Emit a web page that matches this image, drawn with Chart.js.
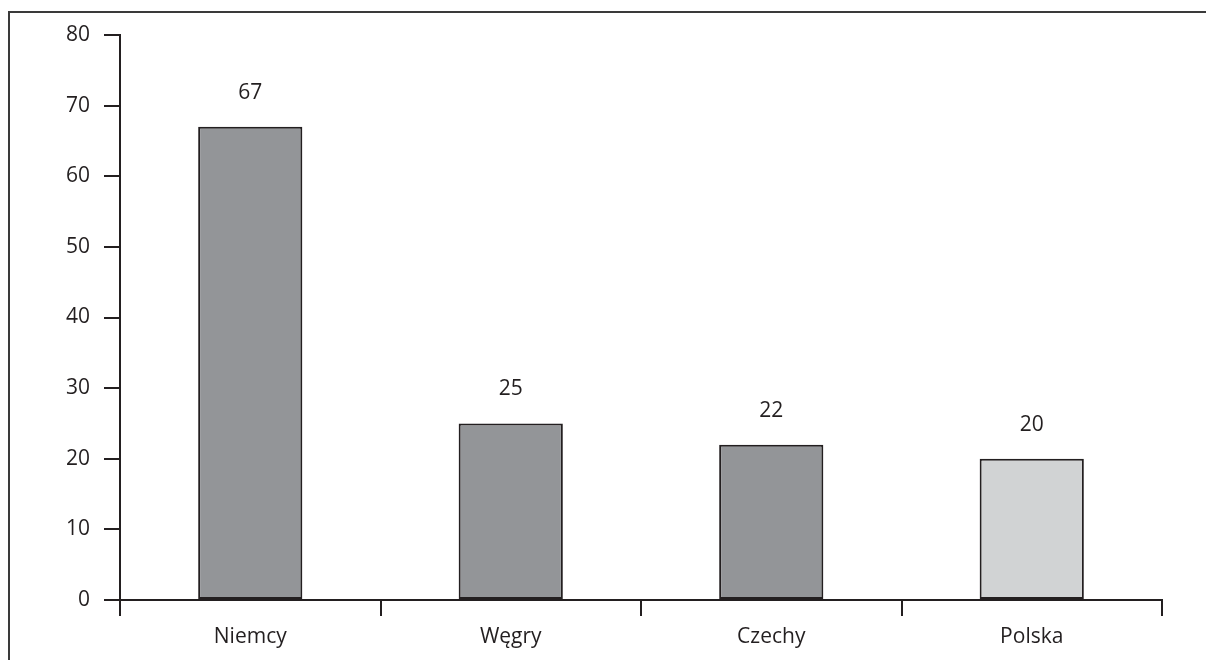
<!DOCTYPE html>
<html>
<head>
<meta charset="utf-8">
<script src="https://cdn.jsdelivr.net/npm/chart.js@4/dist/chart.umd.min.js"></script>
<style>
  html, body { margin: 0; padding: 0; background: #ffffff; }
  #wrap { width: 1206px; height: 660px; position: relative; }
</style>
</head>
<body>
<div id="wrap"><canvas id="c" width="1206" height="660"></canvas></div>
<script>
const categories = ['Niemcy', 'Węgry', 'Czechy', 'Polska'];
const values = [67, 25, 22, 20];
const barColors = ['#939598', '#939598', '#939598', '#d1d3d4'];
const yTicks = [0, 10, 20, 30, 40, 50, 60, 70, 80];

const ink = '#231f20';
const fontFamily = '"Open Sans", "Noto Sans", sans-serif';
const fontSize = 21;

// Thin frame along the top and left edges of the figure
const framePlugin = {
  id: 'frame',
  beforeDraw(chart) {
    const ctx = chart.ctx;
    ctx.save();
    ctx.strokeStyle = '#3a3a3a';
    ctx.lineWidth = 2;
    ctx.beginPath();
    ctx.moveTo(9, chart.height);
    ctx.lineTo(9, 12);
    ctx.lineTo(chart.width, 12);
    ctx.stroke();
    ctx.restore();
  }
};

// Value printed above each bar
const valueLabels = {
  id: 'valueLabels',
  afterDatasetsDraw(chart) {
    const ctx = chart.ctx;
    const meta = chart.getDatasetMeta(0);
    ctx.save();
    ctx.fillStyle = ink;
    ctx.font = fontSize + 'px ' + fontFamily;
    ctx.textAlign = 'center';
    ctx.textBaseline = 'middle';
    meta.data.forEach((bar, i) => {
      ctx.fillText(String(chart.data.datasets[0].data[i]), bar.x, bar.y - 34);
    });
    ctx.restore();
  }
};

new Chart(document.getElementById('c'), {
  type: 'bar',
  data: {
    labels: categories,
    datasets: [{
      data: values,
      backgroundColor: barColors,
      borderColor: ink,
      borderWidth: 2,
      borderSkipped: false,
      categoryPercentage: 0.4,
      barPercentage: 1.0
    }]
  },
  options: {
    responsive: false,
    animation: false,
    devicePixelRatio: 1,
    layout: { padding: { left: 0, right: 44, top: 35, bottom: 0 } },
    plugins: { legend: { display: false }, tooltip: { enabled: false } },
    scales: {
      x: {
        offset: true,
        grid: {
          offset: true,
          drawOnChartArea: false,
          drawTicks: true,
          tickLength: 16,
          color: ink,
          lineWidth: 2
        },
        border: { display: true, color: ink, width: 2 },
        ticks: {
          color: ink,
          font: { size: fontSize, family: fontFamily },
          padding: 8
        },
        afterFit(scale) { scale.height = 60; }
      },
      y: {
        min: 0,
        max: 80,
        afterBuildTicks(scale) { scale.ticks = yTicks.map(v => ({ value: v })); },
        grid: {
          drawOnChartArea: false,
          drawTicks: true,
          tickLength: 16,
          color: ink,
          lineWidth: 2
        },
        border: { display: true, color: ink, width: 2 },
        ticks: {
          color: ink,
          font: { size: fontSize, family: fontFamily },
          padding: 14
        },
        afterFit(scale) { scale.width = 120; }
      }
    }
  },
  plugins: [framePlugin, valueLabels]
});
</script>
</body>
</html>
